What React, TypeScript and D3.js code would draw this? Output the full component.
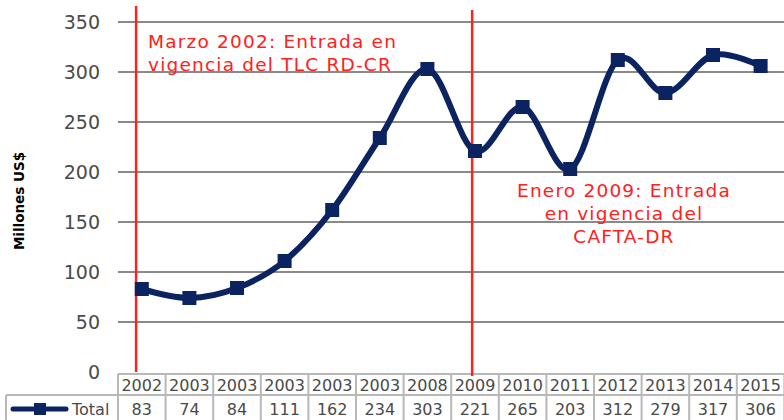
import React, { useEffect, useRef } from 'react';
import * as d3 from 'd3';

const years = ['2002', '2003', '2003', '2003', '2003', '2003', '2008', '2009', '2010', '2011', '2012', '2013', '2014', '2015'];
const totals = [83, 74, 84, 111, 162, 234, 303, 221, 265, 203, 312, 279, 317, 306];
const yTicks = [0, 50, 100, 150, 200, 250, 300, 350];
const seriesName = 'Total';
const yLabel = 'Millones US$';
const noteTlcLines = ['Marzo 2002: Entrada en', 'vigencia del TLC RD-CR'];
const noteCaftaLines = ['Enero 2009: Entrada', 'en vigencia del', 'CAFTA-DR'];

const FONT = '"DejaVu Sans", sans-serif';
const NAVY = '#0b2360';
const RED = '#ff2020';
const TXT = '#4a4a4a';

const App: React.FC = () => {
    const ref = useRef<SVGSVGElement>(null);

    useEffect(() => {
        if (!ref.current) return;
        const svg = d3.select(ref.current);
        svg.selectAll('*').remove();

        const left = 118;
        const right = 784.4;
        const top = 22;
        const bottom = 372;
        const colW = (right - left) / years.length;

        const x = d3.scaleBand<number>()
            .domain(d3.range(years.length))
            .range([left, right]);
        const cx = (i: number) => (x(i) || 0) + x.bandwidth() / 2;
        // continuous version in column units for the event markers
        const xPos = d3.scaleLinear().domain([0, years.length]).range([left, right]);

        const y = d3.scaleLinear().domain([0, 350]).range([bottom, top]);

        // gridlines
        svg.append('g')
            .selectAll('line')
            .data(yTicks.filter(d => d > 0))
            .enter().append('line')
            .attr('x1', left).attr('x2', 784)
            .attr('y1', d => y(d)).attr('y2', d => y(d))
            .attr('stroke', '#8a8a8a')
            .attr('stroke-width', 2);

        // y tick labels
        svg.append('g')
            .selectAll('text')
            .data(yTicks)
            .enter().append('text')
            .attr('x', 100)
            .attr('y', d => y(d))
            .attr('dy', '0.36em')
            .attr('text-anchor', 'end')
            .attr('font-family', FONT)
            .attr('font-size', 19)
            .attr('fill', TXT)
            .text(d => d);

        svg.append('text')
            .attr('transform', `translate(24,201) rotate(-90)`)
            .attr('text-anchor', 'middle')
            .attr('font-family', FONT)
            .attr('font-size', 13.5)
            .attr('font-weight', 600)
            .attr('fill', '#000')
            .text(yLabel);

        // table
        const tbl = svg.append('g');
        const hTop = 374;
        const hMid = 395;
        const hBot = 422;
        const grid = '#b8b8b8';
        tbl.append('line').attr('x1', left).attr('x2', 784).attr('y1', hTop).attr('y2', hTop)
            .attr('stroke', grid).attr('stroke-width', 2);
        tbl.append('line').attr('x1', 6).attr('x2', 784).attr('y1', hMid).attr('y2', hMid)
            .attr('stroke', grid).attr('stroke-width', 2);
        tbl.append('line').attr('x1', 6).attr('x2', 6).attr('y1', hMid).attr('y2', hBot)
            .attr('stroke', grid).attr('stroke-width', 2);
        tbl.selectAll('.colline')
            .data(d3.range(years.length + 1))
            .enter().append('line')
            .attr('class', 'colline')
            .attr('x1', d => left + d * colW).attr('x2', d => left + d * colW)
            .attr('y1', hTop).attr('y2', hBot)
            .attr('stroke', grid).attr('stroke-width', 2);
        tbl.selectAll('.yr')
            .data(years)
            .enter().append('text')
            .attr('class', 'yr')
            .attr('x', (_, i) => cx(i))
            .attr('y', 391)
            .attr('text-anchor', 'middle')
            .attr('font-family', FONT)
            .attr('font-size', 16)
            .attr('fill', TXT)
            .text(d => d);
        tbl.selectAll('.val')
            .data(totals)
            .enter().append('text')
            .attr('class', 'val')
            .attr('x', (_, i) => cx(i))
            .attr('y', 415)
            .attr('text-anchor', 'middle')
            .attr('font-family', FONT)
            .attr('font-size', 16)
            .attr('fill', TXT)
            .text(d => d);
        // legend key
        tbl.append('line').attr('x1', 13).attr('x2', 66).attr('y1', 409).attr('y2', 409)
            .attr('stroke', NAVY).attr('stroke-width', 5).attr('stroke-linecap', 'round');
        tbl.append('rect').attr('x', 34).attr('y', 403).attr('width', 12).attr('height', 12)
            .attr('fill', NAVY);
        tbl.append('text').attr('x', 72).attr('y', 415)
            .attr('font-family', FONT).attr('font-size', 16)
            .attr('fill', TXT)
            .text(seriesName);

        // event lines
        const ev1 = xPos(0.38);
        const ev2 = xPos(7.44);
        svg.append('line').attr('x1', ev1).attr('x2', ev1).attr('y1', 6).attr('y2', 372)
            .attr('stroke', RED).attr('stroke-width', 2.5);
        svg.append('line').attr('x1', ev2).attr('x2', ev2).attr('y1', 10).attr('y2', 376)
            .attr('stroke', RED).attr('stroke-width', 2.5);

        // series line
        const line = d3.line<number>()
            .x((_, i) => cx(i))
            .y(d => y(d))
            .curve(d3.curveCatmullRom.alpha(0));
        svg.append('path')
            .datum(totals)
            .attr('d', line)
            .attr('fill', 'none')
            .attr('stroke', NAVY)
            .attr('stroke-width', 6);
        svg.selectAll('.pt')
            .data(totals)
            .enter().append('rect')
            .attr('class', 'pt')
            .attr('x', (_, i) => cx(i) - 7)
            .attr('y', d => y(d) - 7)
            .attr('width', 14)
            .attr('height', 14)
            .attr('fill', NAVY);

        // annotations
        svg.append('g').selectAll('text')
            .data(noteTlcLines)
            .enter().append('text')
            .attr('x', 148)
            .attr('y', (_, i) => 48 + i * 23)
            .attr('font-family', FONT)
            .attr('font-size', 18.5)
            .attr('letter-spacing', 1.2)
            .attr('fill', RED)
            .text(d => d);
        svg.append('g').selectAll('text')
            .data(noteCaftaLines)
            .enter().append('text')
            .attr('x', 624)
            .attr('y', (_, i) => 197 + i * 23)
            .attr('text-anchor', 'middle')
            .attr('font-family', FONT)
            .attr('font-size', 18.5)
            .attr('letter-spacing', 1.2)
            .attr('fill', RED)
            .text(d => d);
    }, []);

    return (
        <svg ref={ref} width={784} height={420}
            style={{ position: 'absolute', left: 0, top: 0, background: '#fff' }} />
    );
};

export default App;
